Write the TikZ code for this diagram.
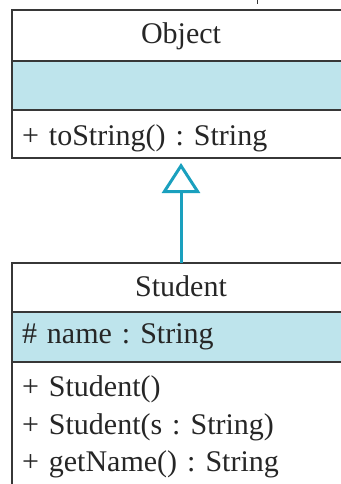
\documentclass[tikz,border=0pt]{standalone}
\usepackage{fontspec}
\setmainfont{Liberation Serif}
\usetikzlibrary{arrows.meta,positioning}
\definecolor{umlblue}{RGB}{190,228,236}
\definecolor{umlteal}{RGB}{26,160,190}
\definecolor{umlgray}{RGB}{55,55,55}
\frenchspacing

\begin{document}
\begin{tikzpicture}[
            x=1pt, y=-1pt,
            part/.style={draw=umlgray, line width=2.6pt, rectangle, minimum width=338pt, outer sep=0pt, inner xsep=10pt, text=black!85, font=\fontsize{30}{37.5}\selectfont},
            namepart/.style={part, minimum height=50pt, text height=20pt, text depth=3pt, align=center},
            attrpart/.style={part, fill=umlblue, minimum height=50pt, text width=318pt, align=left},
            opspart/.style={part, minimum height=48pt, text width=318pt, align=left},
            inherit/.style={-{Triangle[open, length=30pt, width=38pt]}, draw=umlteal, line width=3pt, shorten >=5pt},
            node distance=0pt
        ]
            \useasboundingbox (0,0) rectangle (340,484);
            \draw[umlgray, line width=1pt] (257,0) -- (257,4);

            % superclass
            \node[namepart, minimum height=51pt, anchor=north west] (objName) at (12,10) {Object};
            \node[attrpart, minimum height=49pt, below=of objName] (objAttr) {};
            \node[opspart, text height=25pt, text depth=2pt, below=of objAttr] (objOps) {+ toString() : String};

            % subclass
            \node[namepart, minimum height=49pt, anchor=north west] (stuName) at (12,263) {Student};
            \node[attrpart, below=of stuName] (stuAttr) {\# name : String};
            \node[opspart, inner ysep=14pt, below=of stuAttr] (stuOps) {+ Student()\\+ Student(s : String)\\+ getName() : String\\\mbox{}\\\mbox{}};

            \draw[inherit] (stuName.north) -- (objOps.south);
        \end{tikzpicture}
\end{document}
